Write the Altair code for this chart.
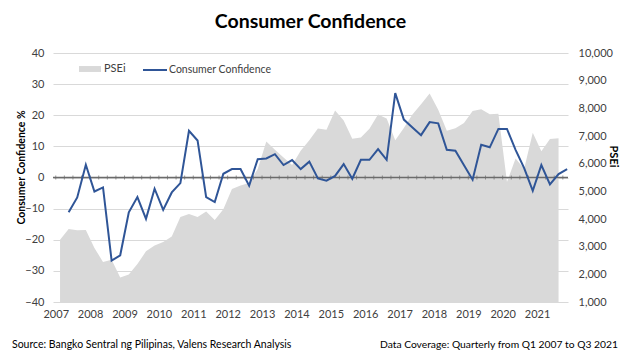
import altair as alt
import pandas as pd

# ---------------- data ----------------
years = list(range(2007, 2022))
quarter_numbers = [1, 2, 3, 4]

# PSEi index, quarterly Q1 2007 .. Q3 2021
psei = [3250, 3640, 3590, 3600, 2950, 2450, 2530, 1890, 1990, 2370,
        2830, 3040, 3170, 3370, 4070, 4180, 4070, 4270, 3960, 4350,
        5080, 5210, 5300, 5810, 6800, 6500, 6220, 5950, 6470, 6850,
        7270, 7230, 7920, 7560, 6900, 6950, 7260, 7780, 7630, 6850,
        7290, 7780, 8150, 8540, 7950, 7190, 7280, 7470, 7900, 7970,
        7790, 7800, 5340, 6190, 5820, 7120, 6450, 6890, 6920]

# Consumer confidence index (%), as plotted: Q2 2007 .. Q4 2021
consumer_confidence = [-11.2, -6.4, 4.1, -4.5, -3.2, -26.7, -25.0, -11.2, -6.3, -13.3,
                       -3.6, -10.4, -4.8, -1.8, 15.0, 11.9, -6.3, -7.9, 1.2, 2.7,
                       2.7, -2.6, 5.9, 6.1, 7.5, 4.0, 5.6, 2.7, 5.1, -0.3,
                       -1.0, 0.5, 4.3, -0.4, 5.7, 5.7, 9.1, 5.7, 27.1, 18.6,
                       16.1, 13.6, 17.8, 17.4, 8.9, 8.6, 3.9, -0.7, 10.5, 9.7,
                       15.6, 15.6, 8.9, 3.0, -4.3, 4.0, -2.2, 1.1, 2.7]

cc_ticks = [-40, -30, -20, -10, 0, 10, 20, 30, 40]
psei_ticks = [1000, 2000, 3000, 4000, 5000, 6000, 7000, 8000, 9000, 10000]

title_text = "Consumer Confidence"
source_text = "Source: Bangko Sentral ng Pilipinas, Valens Research Analysis"
coverage_text = "Data Coverage: Quarterly from Q1 2007 to Q3 2021"

# ---------------- tables ----------------
all_quarters = [(y, q) for y in years for q in quarter_numbers]  # 60 quarters
mid = [y + (q - 0.5) / 4 for (y, q) in all_quarters]
starts = [y + (q - 1) / 4 for (y, q) in all_quarters]

df_psei = pd.DataFrame({
    "quarter": [f"Q{q} {y}" for (y, q) in all_quarters[:59]],
    "t": mid[:59],
    "psei": psei,
    "series": "PSEi",
})
df_cc = pd.DataFrame({
    "quarter": [f"Q{q} {y}" for (y, q) in all_quarters[1:60]],
    "t": mid[1:60],
    "cc": consumer_confidence,
    "series": "Consumer Confidence",
})
df_ticks = pd.DataFrame({"t": starts, "zero": 0})

FONT = "Lato"
LABEL_COLOR = "#404040"
BLUE = "#2F5597"
GRAY_FILL = "#D9D9D9"

x_scale = alt.Scale(domain=[2006.92, 2021.90], nice=False, zero=False)
cc_scale = alt.Scale(domain=[-40, 40], nice=False, zero=False)

x_axis = alt.Axis(values=years, format="d", title=None, grid=False, ticks=False,
                  domain=False, labelFont=FONT, labelFontSize=11, labelOverlap=False,
                  labelColor=LABEL_COLOR, labelPadding=6)

cc_axis = alt.Axis(orient="left", values=cc_ticks, grid=True, gridColor=GRAY_FILL,
                   labelOverlap=False, tickCount=9,
                   gridWidth=1, ticks=False, tickSize=0, domain=False,
                   labelFont=FONT, labelFontSize=11, labelColor=LABEL_COLOR,
                   labelPadding=9, title="Consumer Confidence %", titleFont=FONT,
                   titleFontSize=10.5, titleFontWeight="bold", titleColor="#000000",
                   titleAngle=270, titleX=-32, titleY=114, titleAlign="center",
                   titleBaseline="middle")

area = alt.Chart(df_psei).mark_area(opacity=1, clip=True).encode(
    x=alt.X("t:Q", scale=x_scale, axis=x_axis),
    y=alt.Y("psei:Q",
            scale=alt.Scale(domain=[1000, 10000], nice=False, zero=False),
            axis=alt.Axis(orient="right", values=psei_ticks, format=",.0f",
                          labelOverlap=False,
                          grid=False, ticks=False, tickSize=0, domain=False,
                          labelFont=FONT, labelFontSize=11, labelColor=LABEL_COLOR,
                          labelPadding=10, title="PSEi", titleFont=FONT,
                          titleFontSize=11, titleFontWeight="bold", titleColor="#000000",
                          titleAngle=90, titleX=44, titleY=103, titleAlign="center",
                          titleBaseline="middle")),
    fill=alt.Fill("series:N",
                  scale=alt.Scale(domain=["PSEi"], range=[GRAY_FILL]),
                  legend=alt.Legend(title=None, orient="none", legendX=26, legendY=5,
                                    symbolType="M-1,-0.27H1V0.27H-1Z", symbolSize=484,
                                    symbolStrokeWidth=0, labelFont=FONT, labelFontSize=11,
                                    labelColor=LABEL_COLOR, labelOffset=3, padding=0)),
)

line = alt.Chart(df_cc).mark_line(strokeWidth=2).encode(
    x=alt.X("t:Q", scale=x_scale, axis=x_axis),
    y=alt.Y("cc:Q", scale=cc_scale, axis=cc_axis),
    stroke=alt.Stroke("series:N",
                      scale=alt.Scale(domain=["Consumer Confidence"], range=[BLUE]),
                      legend=alt.Legend(title=None, orient="none", legendX=89, legendY=4,
                                        symbolType="stroke", symbolSize=576,
                                        symbolStrokeWidth=2, labelFont=FONT,
                                        labelFontSize=10.5, labelColor=LABEL_COLOR,
                                        labelOffset=1, padding=0)),
)

zero_rule = alt.Chart(pd.DataFrame({"zero": [0]})).mark_rule(
    color="#6b6b6b", strokeWidth=1.5
).encode(y=alt.Y("zero:Q", scale=cc_scale, axis=cc_axis))

zero_ticks = alt.Chart(df_ticks).mark_tick(
    orient="vertical", size=4, thickness=1, color="#6b6b6b", clip=True
).encode(x=alt.X("t:Q", scale=x_scale, axis=x_axis),
         y=alt.Y("zero:Q", scale=cc_scale, axis=cc_axis))

source = alt.Chart(pd.DataFrame({"text": [source_text]})).mark_text(
    align="left", baseline="middle", font=FONT, fontSize=10.5, color="#000000"
).encode(x=alt.value(-41), y=alt.value(292), text="text:N")

coverage = alt.Chart(pd.DataFrame({"text": [coverage_text]})).mark_text(
    align="right", baseline="middle", font=FONT, fontSize=10.3, color="#000000"
).encode(x=alt.value(565), y=alt.value(292), text="text:N")

cc_layer = alt.layer(zero_ticks, zero_rule, line, source, coverage)

chart = alt.layer(area, cc_layer).resolve_scale(y="independent").properties(
    width=515, height=249,
    autosize=alt.AutoSizeParams(type="none"),
    padding={"left": 45, "top": 45, "right": 52, "bottom": 50},
    title=alt.Title(title_text, font=FONT, fontSize=19.5, fontWeight="bold",
                    color="#000000", anchor="middle", offset=15),
).configure_view(stroke=None)

chart.save("out.html", embed_options={"renderer": "svg", "actions": False})
